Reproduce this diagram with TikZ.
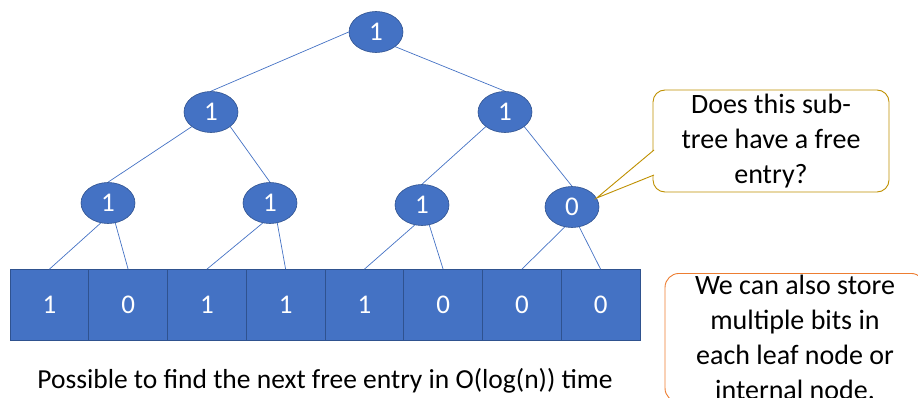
\documentclass[tikz,border=0pt]{standalone}
\usepackage{fontspec}
\setmainfont{Carlito}
\usetikzlibrary{shapes.geometric,positioning,calc}
\definecolor{nodeblue}{RGB}{68,114,196}
\definecolor{nodeedge}{RGB}{47,82,143}
\definecolor{calloutgold}{RGB}{191,144,0}
\definecolor{noteorange}{RGB}{237,125,49}

\tikzset{
  bitnode/.style={ellipse, fill=nodeblue, draw=nodeedge, line width=0.6pt,
    minimum width=54pt, minimum height=41pt, inner sep=0pt, text=white,
    font=\fontsize{27}{30}\selectfont},
  leafcell/.style={rectangle, fill=nodeblue, draw=nodeedge, line width=0.6pt,
    minimum width=78.75pt, minimum height=71pt, inner sep=0pt, text=white,
    font=\fontsize{27}{30}\selectfont},
  treeedge/.style={draw=nodeblue, line width=0.7pt},
  bubbletext/.style={align=center, font=\fontsize{28}{35}\selectfont}
}

\begin{document}
\begin{tikzpicture}[x=1pt, y=-1pt]
    \useasboundingbox (0,0) rectangle (918,398);
    \clip (0,0) rectangle (918,398);
    % leaf array
    \foreach \b [count=\i] in {1,0,1,1,1,0,0,0}
      \node[leafcell] (c\i) at ({10+78.75*(\i-0.5)},305) {\b};
    % internal nodes
    \node[bitnode] (root) at (376,32) {1};
    \node[bitnode] (l2a) at (211,112) {1};
    \node[bitnode] (l2b) at (505,112) {1};
    \node[bitnode] (l3a) at (108,203) {1};
    \node[bitnode] (l3b) at (270,203) {1};
    \node[bitnode] (l3c) at (422,205) {1};
    \node[bitnode] (l3d) at (572,207) {0};
    % tree edges
    \draw[treeedge] (root.west) -- (l2a.north);
    \draw[treeedge] (root.south east) -- (l2b.north);
    \draw[treeedge] (l2a.south west) -- (l3a.north);
    \draw[treeedge] (l2a.south east) -- (l3b.north);
    \draw[treeedge] (l2b.south west) -- (l3c.north);
    \draw[treeedge] (l2b.south east) -- (l3d.north);
    \foreach \p/\l/\r in {l3a/c1/c2, l3b/c3/c4, l3c/c5/c6, l3d/c7/c8} {
      \draw[treeedge] (\p.250) -- (\l.north);
      \draw[treeedge] (\p.290) -- (\r.north);
    }
    % callout pointing at the 0 subtree
    \node[draw=calloutgold, line width=0.9pt, fill=white, rounded corners=12pt,
      minimum width=236pt, minimum height=102pt, bubbletext] (question) at (771,141)
      {Does this sub-\\tree have a free\\entry?};
    \coordinate (qa) at (654,150);
    \coordinate (qb) at (654,175);
    \fill[white] (qa) -- (l3d.20) -- (qb) -- cycle;
    \draw[calloutgold, line width=0.9pt] (qa) -- (l3d.20) -- (qb);
    % side note
    \node[draw=noteorange, line width=0.9pt, rounded corners=14pt, anchor=north,
      minimum width=260pt, inner ysep=2pt, bubbletext] (note) at (795,273)
      {We can also store\\multiple bits in\\each leaf node or\\internal node.};
    % caption
    \node[font=\fontsize{27.5}{30}\selectfont] (caption) at (325,381)
      {Possible to find the next free entry in O(log(n)) time};
\end{tikzpicture}
\end{document}
